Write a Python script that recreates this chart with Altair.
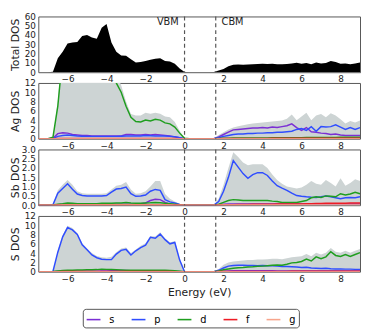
import altair as alt
import pandas as pd

# Energy grid (eV)
ENERGY = [-7.5, -7.25, -7.0, -6.75, -6.5, -6.25, -6.0, -5.75, -5.5, -5.25,
          -5.0, -4.75, -4.5, -4.25, -4.0, -3.75, -3.5, -3.25, -3.0, -2.75,
          -2.5, -2.25, -2.0, -1.75, -1.5, -1.25, -1.0, -0.75, -0.5, -0.25,
          0.0, 0.25, 0.5, 0.75, 1.0, 1.25, 1.5, 1.75, 2.0, 2.25,
          2.5, 2.75, 3.0, 3.25, 3.5, 3.75, 4.0, 4.25, 4.5, 4.75,
          5.0, 5.25, 5.5, 5.75, 6.0, 6.25, 6.5, 6.75, 7.0, 7.25,
          7.5, 7.75, 8.0, 8.25, 8.5, 8.75, 9.0]

TOTAL = [0, 0, 0, 0.5, 15, 22, 31, 32, 32.5, 39, 40, 37.5, 36, 48, 52, 32, 22, 18, 17.8, 14,
         10.5, 11, 12, 13.5, 14.5, 15, 12, 11.5, 9, 4, 0.3,
         0, 0, 0, 0, 0,
         0.2, 1.8, 3.5, 6.5, 8.0, 8.2, 8.0, 8.3, 8.5, 8.8, 9.0, 8.8, 9.0, 8.6, 8.5, 8.8,
         9.5, 10.2, 9.0, 10.0, 8.5, 10.5, 9.5, 10.0, 12.0, 11.0, 9.0, 9.5, 8.5, 9.5, 10.5]

AG_TOT = [0, 0, 0, 0.3, 8, 20, 25, 25, 26, 30, 32, 30, 29, 38, 42, 24, 14, 11.5, 8, 5.3,
          5.0, 5.0, 5.6, 5.4, 5.6, 5.4, 4.8, 4.6, 3.6, 1.7, 0.1,
          0, 0, 0, 0, 0,
          0.1, 0.8, 1.4, 2.0, 2.4, 2.7, 2.9, 3.1, 3.3, 3.4, 3.5, 3.6, 3.7, 3.8, 3.9, 4.3,
          5.2, 4.0, 4.8, 5.6, 4.0, 5.0, 5.3, 4.6, 5.5, 5.0, 4.2, 3.3, 3.8, 3.5, 3.9]
AG_S = [0, 0, 0, 0.1, 1.1, 1.3, 1.2, 0.9, 0.8, 0.7, 0.7, 0.6, 0.6, 0.6, 0.6, 0.6, 0.6, 0.6, 0.9, 0.9,
        0.8, 0.8, 0.9, 0.8, 0.9, 0.8, 0.7, 0.6, 0.4, 0.2, 0,
        0, 0, 0, 0, 0,
        0, 0.4, 0.9, 1.4, 1.9, 2.0, 2.1, 2.2, 2.3, 2.3, 2.4, 2.3, 2.5, 2.4, 2.6, 2.8,
        3.2, 2.4, 1.8, 2.4, 1.5, 1.4, 1.2, 1.1, 0.9, 1.0, 0.8, 0.7, 0.7, 0.7, 0.7]
AG_P = [0, 0, 0, 0.05, 0.5, 0.7, 0.8, 0.7, 0.6, 0.55, 0.5, 0.5, 0.5, 0.5, 0.5, 0.5, 0.5, 0.55, 0.6, 0.6,
        0.6, 0.6, 0.7, 0.65, 0.6, 0.6, 0.6, 0.5, 0.4, 0.2, 0,
        0, 0, 0, 0, 0,
        0, 0.2, 0.5, 0.7, 0.9, 1.0, 1.0, 1.1, 1.1, 1.2, 1.2, 1.3, 1.3, 1.4, 1.4, 1.5,
        1.6, 2.0, 2.2, 1.8, 2.6, 1.6, 2.6, 2.5, 2.6, 3.0, 2.5, 2.0, 2.4, 2.0, 2.4]
AG_D = [0, 0, 0, 0.3, 7, 18, 22, 22, 23, 27, 29, 27, 26, 35, 39, 21, 12, 10, 7, 4.6,
        3.7, 3.6, 4.0, 3.8, 4.2, 4.0, 3.4, 3.2, 2.5, 1.2, 0.1,
        0, 0, 0, 0, 0,
        0, 0.05, 0.1, 0.12, 0.15, 0.15, 0.15, 0.15, 0.15, 0.18, 0.18, 0.18, 0.2, 0.2, 0.2, 0.2,
        0.22, 0.22, 0.22, 0.25, 0.25, 0.25, 0.25, 0.28, 0.28, 0.28, 0.3, 0.3, 0.3, 0.3, 0.3]
AG_F = [0, 0, 0, 0.01, 0.04, 0.05, 0.05, 0.05, 0.05, 0.05, 0.05, 0.05, 0.05, 0.05, 0.05, 0.05, 0.05, 0.05, 0.05, 0.05,
        0.05, 0.05, 0.05, 0.05, 0.05, 0.05, 0.05, 0.04, 0.03, 0.02, 0,
        0, 0, 0, 0, 0,
        0, 0.02, 0.04, 0.05, 0.06, 0.06, 0.06, 0.07, 0.07, 0.07, 0.07, 0.07, 0.08, 0.08, 0.08, 0.08,
        0.08, 0.09, 0.09, 0.09, 0.09, 0.1, 0.1, 0.1, 0.1, 0.1, 0.1, 0.1, 0.1, 0.1, 0.1]
AG_G = [0, 0, 0, 0, 0.01, 0.02, 0.02, 0.02, 0.02, 0.02, 0.02, 0.02, 0.02, 0.02, 0.02, 0.02, 0.02, 0.02, 0.02, 0.02,
        0.02, 0.02, 0.02, 0.02, 0.02, 0.02, 0.02, 0.02, 0.01, 0.01, 0,
        0, 0, 0, 0, 0,
        0, 0.01, 0.01, 0.02, 0.02, 0.02, 0.02, 0.02, 0.02, 0.02, 0.02, 0.02, 0.02, 0.02, 0.02, 0.02,
        0.02, 0.02, 0.02, 0.02, 0.02, 0.02, 0.02, 0.02, 0.02, 0.02, 0.02, 0.02, 0.02, 0.02, 0.02]

SB_TOT = [0, 0, 0, 0.05, 0.8, 1.1, 1.35, 1.1, 0.75, 0.65, 0.62, 0.62, 0.62, 0.62, 0.65, 0.85, 1.05, 1.1, 1.25, 0.85,
          0.62, 0.65, 0.75, 1.0, 1.3, 1.3, 0.6, 0.35, 0.2, 0.08, 0,
          0, 0, 0, 0, 0,
          0, 0.35, 1.1, 2.0, 2.85, 2.6, 2.3, 2.15, 2.2, 2.2, 2.2, 2.0, 1.65, 1.35, 1.15, 1.0,
          0.95, 0.9, 0.95, 1.1, 1.3, 1.15, 1.1, 1.35, 1.2, 1.0, 1.45, 1.05, 1.2, 1.4, 1.3]
SB_S = [0, 0, 0, 0, 0.03, 0.05, 0.05, 0.05, 0.06, 0.07, 0.07, 0.07, 0.07, 0.06, 0.05, 0.05, 0.05, 0.05, 0.05, 0.05,
        0.06, 0.08, 0.12, 0.25, 0.32, 0.3, 0.15, 0.05, 0.03, 0.01, 0,
        0, 0, 0, 0, 0,
        0, 0.02, 0.05, 0.06, 0.07, 0.07, 0.07, 0.07, 0.07, 0.07, 0.07, 0.07, 0.06, 0.06, 0.06, 0.06,
        0.06, 0.06, 0.06, 0.06, 0.06, 0.06, 0.06, 0.06, 0.06, 0.06, 0.06, 0.06, 0.06, 0.06, 0.06]
SB_P = [0, 0, 0, 0.02, 0.65, 0.9, 1.15, 0.86, 0.6, 0.52, 0.5, 0.5, 0.5, 0.5, 0.52, 0.7, 0.87, 0.9, 0.98, 0.62,
        0.48, 0.5, 0.55, 0.75, 0.85, 0.8, 0.3, 0.18, 0.12, 0.04, 0,
        0, 0, 0, 0, 0,
        0, 0.2, 0.75, 1.5, 2.4, 2.05, 1.7, 1.45, 1.65, 1.75, 1.75, 1.6, 1.3, 1.05, 0.92, 0.8,
        0.65, 0.52, 0.48, 0.45, 0.43, 0.42, 0.45, 0.5, 0.45, 0.4, 0.35, 0.4, 0.42, 0.4, 0.45]
SB_D = [0, 0, 0, 0.01, 0.05, 0.08, 0.12, 0.1, 0.08, 0.08, 0.08, 0.08, 0.08, 0.1, 0.1, 0.1, 0.12, 0.12, 0.15, 0.12,
        0.1, 0.1, 0.12, 0.13, 0.15, 0.13, 0.1, 0.08, 0.05, 0.02, 0,
        0, 0, 0, 0, 0,
        0, 0.05, 0.15, 0.25, 0.3, 0.28, 0.25, 0.25, 0.25, 0.25, 0.25, 0.25, 0.22, 0.2, 0.15, 0.15,
        0.15, 0.15, 0.2, 0.25, 0.4, 0.45, 0.42, 0.5, 0.48, 0.45, 0.62, 0.55, 0.6, 0.7, 0.62]
SB_F = [0, 0, 0, 0, 0.01, 0.01, 0.02, 0.02, 0.02, 0.02, 0.02, 0.02, 0.02, 0.02, 0.02, 0.02, 0.02, 0.02, 0.02, 0.02,
        0.02, 0.02, 0.02, 0.02, 0.02, 0.02, 0.02, 0.01, 0.01, 0.01, 0,
        0, 0, 0, 0, 0,
        0, 0.01, 0.02, 0.03, 0.03, 0.04, 0.04, 0.04, 0.05, 0.05, 0.05, 0.05, 0.05, 0.06, 0.06, 0.06,
        0.07, 0.07, 0.07, 0.08, 0.08, 0.09, 0.09, 0.1, 0.1, 0.1, 0.11, 0.11, 0.12, 0.12, 0.12]
SB_G = [0, 0, 0, 0, 0, 0.01, 0.01, 0.01, 0.01, 0.01, 0.01, 0.01, 0.01, 0.01, 0.01, 0.01, 0.01, 0.01, 0.01, 0.01,
        0.01, 0.01, 0.01, 0.01, 0.01, 0.01, 0.01, 0.01, 0, 0, 0,
        0, 0, 0, 0, 0,
        0, 0, 0.01, 0.01, 0.01, 0.01, 0.01, 0.01, 0.01, 0.01, 0.01, 0.01, 0.01, 0.01, 0.01, 0.01,
        0.01, 0.01, 0.01, 0.01, 0.01, 0.01, 0.01, 0.01, 0.01, 0.01, 0.01, 0.01, 0.01, 0.01, 0.01]

S_TOT = [0, 0, 0, 0.1, 4.5, 7.9, 9.9, 9.4, 8.3, 6.1, 5.0, 4.0, 3.4, 3.1, 3.0, 3.2, 4.2, 5.0, 5.2, 4.0,
         4.8, 5.6, 6.1, 7.7, 7.6, 8.5, 7.2, 6.3, 6.6, 2.8, 0.1,
         0, 0, 0, 0, 0,
         0, 0.6, 1.5, 2.0, 2.2, 2.3, 2.4, 2.5, 2.5, 2.6, 2.65, 2.7, 2.8, 2.8, 2.7, 2.9,
         3.1, 3.2, 3.3, 3.8, 3.3, 4.1, 3.7, 4.1, 5.1, 4.3, 4.1, 4.5, 4.1, 4.5, 4.9]
S_S = [0, 0, 0, 0.01, 0.08, 0.1, 0.12, 0.12, 0.12, 0.12, 0.12, 0.12, 0.12, 0.15, 0.18, 0.2, 0.22, 0.25, 0.25, 0.2,
       0.15, 0.12, 0.1, 0.1, 0.1, 0.1, 0.08, 0.06, 0.05, 0.02, 0,
       0, 0, 0, 0, 0,
       0, 0.05, 0.12, 0.18, 0.2, 0.2, 0.2, 0.2, 0.2, 0.2, 0.2, 0.2, 0.2, 0.18, 0.18, 0.18,
       0.18, 0.17, 0.17, 0.17, 0.16, 0.16, 0.16, 0.15, 0.15, 0.15, 0.15, 0.15, 0.15, 0.15, 0.15]
S_P = [0, 0, 0, 0.05, 4.2, 7.5, 9.5, 9.0, 8.0, 5.8, 4.7, 3.6, 3.0, 2.7, 2.6, 2.6, 3.8, 4.6, 4.8, 3.6,
       4.5, 5.2, 5.7, 7.4, 7.2, 8.1, 6.9, 6.0, 6.3, 2.5, 0,
       0, 0, 0, 0, 0,
       0, 0.3, 0.8, 1.2, 1.35, 1.4, 1.4, 1.35, 1.35, 1.3, 1.35, 1.3, 1.3, 1.2, 1.1, 1.1,
       1.05, 1.0, 0.9, 0.95, 0.8, 0.75, 0.7, 0.75, 0.65, 0.6, 0.6, 0.55, 0.55, 0.5, 0.5]
S_D = [0, 0, 0, 0.02, 0.15, 0.25, 0.3, 0.32, 0.35, 0.38, 0.4, 0.42, 0.45, 0.55, 0.5, 0.45, 0.4, 0.35, 0.3, 0.3,
       0.3, 0.3, 0.3, 0.3, 0.3, 0.3, 0.3, 0.25, 0.2, 0.1, 0,
       0, 0, 0, 0, 0,
       0, 0.15, 0.4, 0.6, 0.75, 0.85, 0.9, 1.0, 1.05, 1.15, 1.2, 1.3, 1.4, 1.45, 1.4, 1.6,
       1.9, 2.0, 2.2, 2.7, 2.3, 3.2, 2.8, 3.2, 4.3, 3.5, 3.3, 3.7, 3.3, 3.7, 4.1]
S_F = [0, 0, 0, 0, 0.01, 0.02, 0.02, 0.02, 0.02, 0.02, 0.02, 0.02, 0.02, 0.02, 0.02, 0.02, 0.02, 0.02, 0.02, 0.02,
       0.02, 0.02, 0.02, 0.02, 0.02, 0.02, 0.02, 0.02, 0.01, 0.01, 0,
       0, 0, 0, 0, 0,
       0, 0.02, 0.03, 0.04, 0.05, 0.05, 0.05, 0.06, 0.06, 0.06, 0.06, 0.06, 0.07, 0.07, 0.07, 0.07,
       0.08, 0.08, 0.08, 0.08, 0.09, 0.09, 0.09, 0.09, 0.1, 0.1, 0.1, 0.1, 0.1, 0.1, 0.1]
S_G = [0, 0, 0, 0, 0, 0.01, 0.01, 0.01, 0.01, 0.01, 0.01, 0.01, 0.01, 0.01, 0.01, 0.01, 0.01, 0.01, 0.01, 0.01,
       0.01, 0.01, 0.01, 0.01, 0.01, 0.01, 0.01, 0.01, 0, 0, 0,
       0, 0, 0, 0, 0,
       0, 0, 0.01, 0.01, 0.01, 0.01, 0.01, 0.01, 0.01, 0.01, 0.01, 0.01, 0.01, 0.01, 0.01, 0.01,
       0.01, 0.01, 0.01, 0.01, 0.01, 0.01, 0.01, 0.01, 0.01, 0.01, 0.01, 0.01, 0.01, 0.01, 0.01]

ORBITALS = ["s", "p", "d", "f", "g"]
ORB_COLORS = ["#7b2fd4", "#2f4dff", "#1f9e1f", "#ee1c25", "#f7a58c"]
GREY = "#cdd4d4"
EDGES = [0.0, 1.6]          # VBM, CBM
EDGE_LABELS = ["VBM", "CBM"]
X_TICKS = [-6, -4, -2, 0, 2, 4, 6, 8]
FONT = "DejaVu Sans"

ELEMENTS = [
    ("Ag DOS", AG_TOT, [AG_S, AG_P, AG_D, AG_F, AG_G], [0, 12], [0, 2, 4, 6, 8, 10, 12], "d"),
    ("Sb DOS", SB_TOT, [SB_S, SB_P, SB_D, SB_F, SB_G], [0, 3], [0, 0.5, 1.0, 1.5, 2.0, 2.5, 3.0], ".1f"),
    ("S DOS", S_TOT, [S_S, S_P, S_D, S_F, S_G], [0, 12], [0, 2, 4, 6, 8, 10, 12], "d"),
]

W, H = 329, 57


def xenc(bottom):
    if bottom:
        ax = alt.Axis(values=X_TICKS, format="d", title="Energy (eV)")
    else:
        ax = alt.Axis(values=X_TICKS, format="d", title=None)
    return alt.X("E:Q", scale=alt.Scale(domain=[-7.5, 9], nice=False, zero=False), axis=ax)


def yenc(title, domain, ticks, fmt):
    return alt.Y("v:Q", scale=alt.Scale(domain=domain, nice=False, zero=True),
                 axis=alt.Axis(values=ticks, format=fmt, title=title, titleX=-18))


rules_df = pd.DataFrame({"E": EDGES})


def rules(bottom):
    return alt.Chart(rules_df).mark_rule(color="#555", strokeDash=[4, 3], strokeWidth=1.2).encode(
        x=xenc(bottom))


# Total panel
tot_df = pd.DataFrame({"E": ENERGY, "v": TOTAL})
ytot = yenc("Total DOS", [0, 60], [0, 10, 20, 30, 40, 50, 60], "d")
tot_area = alt.Chart(tot_df).mark_area(color="black", clip=True).encode(x=xenc(False), y=ytot)
lab_df = pd.DataFrame({"E": [EDGES[0] - 0.3, EDGES[1] + 0.3], "v": [54.5, 54.5], "t": EDGE_LABELS})
vbm_text = alt.Chart(lab_df.iloc[[0]]).mark_text(align="right", baseline="middle", font=FONT,
                                                  fontSize=10, color="#222").encode(
    x=xenc(False), y=ytot, text="t:N")
cbm_text = alt.Chart(lab_df.iloc[[1]]).mark_text(align="left", baseline="middle", font=FONT,
                                                  fontSize=10, color="#222").encode(
    x=xenc(False), y=ytot, text="t:N")
panels = [alt.layer(tot_area, rules(False), vbm_text, cbm_text).properties(width=W, height=H)]

color = alt.Color("orb:N", sort=ORBITALS,
                  scale=alt.Scale(domain=ORBITALS, range=ORB_COLORS),
                  legend=alt.Legend(title=None, orient="none", legendX=W / 2 - 119, legendY=299,
                                    direction="horizontal", columns=5,
                                    symbolType="stroke", symbolSize=200, symbolStrokeWidth=1.6,
                                    labelFont=FONT, labelFontSize=10, labelOffset=8,
                                    columnPadding=13, padding=3, strokeColor="#555",
                                    cornerRadius=3, fillColor="white"))

for i, (title, tot, orbs, dom, ticks, fmt) in enumerate(ELEMENTS):
    bottom = i == len(ELEMENTS) - 1
    adf = pd.DataFrame({"E": ENERGY, "v": tot})
    rows = []
    for name, vals in zip(ORBITALS, orbs):
        for e, v in zip(ENERGY, vals):
            rows.append({"E": e, "v": v, "orb": name})
    ldf = pd.DataFrame(rows)
    y = yenc(title, dom, ticks, fmt)
    area = alt.Chart(adf).mark_area(color=GREY, clip=True).encode(x=xenc(bottom), y=y)
    lines = alt.Chart(ldf).mark_line(strokeWidth=1.5, clip=True).encode(
        x=xenc(bottom), y=y, color=color)
    panels.append(alt.layer(area, lines, rules(bottom)).properties(width=W, height=H))

chart = alt.vconcat(*panels, spacing=11, bounds="flush").resolve_scale(
    color="shared").properties(
    padding={"left": 1, "top": 0, "right": 0, "bottom": 0}
).configure_axis(
    labelFont=FONT, labelFontSize=9, labelColor="#222", labelPadding=3,
    titleFont=FONT, titleFontSize=11, titleFontWeight="normal", titleColor="#222",
    titlePadding=3, grid=False, ticks=False, domain=False
).configure_view(stroke="#555", strokeWidth=1)

chart.save("out.html", embed_options={"renderer": "svg", "actions": False})
